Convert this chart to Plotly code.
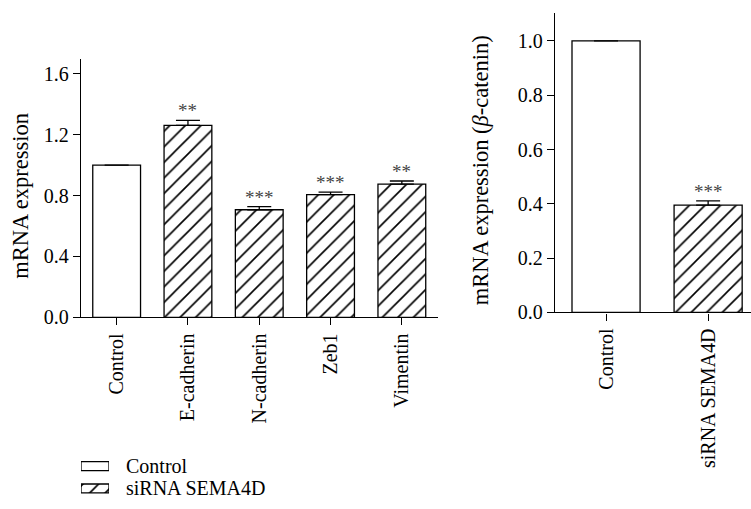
import plotly.graph_objects as go

W, H = 751, 509

# ---- data ----
left_categories = ["Control", "E-cadherin", "N-cadherin", "Zeb1", "Vimentin"]
left_values = [1.0, 1.262, 0.707, 0.806, 0.875]
left_errors = [None, 0.032, 0.02, 0.017, 0.021]
left_stars = ["", "**", "***", "***", "**"]
left_is_sirna = [False, True, True, True, True]

right_categories = ["Control", "siRNA SEMA4D"]
right_values = [1.0, 0.395]
right_errors = [None, 0.016]
right_stars = ["", "***"]
right_is_sirna = [False, True]

legend_labels = ["Control", "siRNA SEMA4D"]
legend_is_sirna = [False, True]

left_yticks = [0.0, 0.4, 0.8, 1.2, 1.6]
right_yticks = [0.0, 0.2, 0.4, 0.6, 0.8, 1.0]

FONT = "Liberation Serif"
LW = 1.3


def px_x(p):
    return p / W


def px_y(p):
    return 1 - p / H


def marker_for(flags):
    return dict(
        color="white",
        line=dict(color="black", width=LW),
        pattern=dict(
            shape=["/" if f else "" for f in flags],
            fgcolor="black",
            bgcolor="white",
            fgopacity=1,
            size=11,
            solidity=0.15,
        ),
    )


def err(vals):
    return dict(type="data", array=vals, arrayminus=[0 if v is not None else None for v in vals],
                symmetric=False, color="black", thickness=LW, width=12)


fig = go.Figure()

fig.add_trace(go.Bar(
    x=left_categories, y=left_values, width=0.67,
    marker=marker_for(left_is_sirna), error_y=err(left_errors),
    xaxis="x", yaxis="y", showlegend=False,
))

fig.add_trace(go.Bar(
    x=right_categories, y=right_values, width=0.667,
    marker=marker_for(right_is_sirna), error_y=err(right_errors),
    xaxis="x2", yaxis="y2", showlegend=False,
))

# legend swatches drawn as horizontal bars in a small axis
fig.add_trace(go.Bar(
    y=legend_labels, x=[1] * len(legend_labels), orientation="h", width=0.4,
    marker=marker_for(legend_is_sirna),
    xaxis="x3", yaxis="y3", showlegend=False,
))

annotations = []
for cat, v, e, s in zip(left_categories, left_values, left_errors, left_stars):
    if s:
        annotations.append(dict(x=cat, y=v + (e or 0), xref="x", yref="y", text=s,
                                showarrow=False, yanchor="bottom", yshift=-3,
                                font=dict(family=FONT, size=19, color="#444")))
for cat, v, e, s in zip(right_categories, right_values, right_errors, right_stars):
    if s:
        annotations.append(dict(x=cat, y=v + (e or 0), xref="x2", yref="y2", text=s,
                                showarrow=False, yanchor="bottom", yshift=-3,
                                font=dict(family=FONT, size=19, color="#444")))

for lab in legend_labels:
    annotations.append(dict(x=1, y=lab, xref="x3", yref="y3", text=lab,
                            showarrow=False, xanchor="left", yanchor="middle",
                            xshift=15, font=dict(family=FONT, size=20, color="black")))

annotations.append(dict(x=px_x(21), y=px_y(200), xref="paper", yref="paper",
                        text="mRNA expression", textangle=-90, showarrow=False,
                        xanchor="center", yanchor="middle",
                        font=dict(family=FONT, size=22.5, color="black")))
annotations.append(dict(x=px_x(480), y=px_y(174), xref="paper", yref="paper",
                        text="mRNA expression (<i>β</i>-catenin)", textangle=-90,
                        showarrow=False, xanchor="center", yanchor="middle",
                        font=dict(family=FONT, size=22.5, color="black")))

axis_common = dict(showline=True, linecolor="black", linewidth=LW, ticks="outside",
                   ticklen=7, tickwidth=LW, tickcolor="black", showgrid=False,
                   zeroline=False, tickfont=dict(family=FONT, size=20, color="black"))

fig.update_layout(
    width=W, height=H, margin=dict(l=0, r=0, t=0, b=0),
    paper_bgcolor="white", plot_bgcolor="white",
    font=dict(family=FONT, color="black"),
    xaxis=dict(domain=[px_x(81), px_x(437.5)], range=[-0.5, 4.5], anchor="y",
               tickangle=-90, **axis_common),
    yaxis=dict(domain=[px_y(324.3), px_y(60)], range=[0, 1.7], anchor="x",
               tickvals=left_yticks, tickformat=".1f", **axis_common),
    xaxis2=dict(domain=[px_x(555), 1.0], range=[-0.5, 1.42], anchor="y2",
                tickangle=-90, **axis_common),
    yaxis2=dict(domain=[px_y(319.3), px_y(13.3)], range=[0, 1.103], anchor="x2",
                tickvals=right_yticks, tickformat=".1f", **axis_common),
    xaxis3=dict(domain=[px_x(81), px_x(109)], range=[0, 1], anchor="y3",
                visible=False, fixedrange=True),
    yaxis3=dict(domain=[px_y(505), px_y(465)], range=[1.25, -0.5], anchor="x3",
                visible=False, fixedrange=True),
    annotations=annotations,
)

fig.write_html("out.html")
